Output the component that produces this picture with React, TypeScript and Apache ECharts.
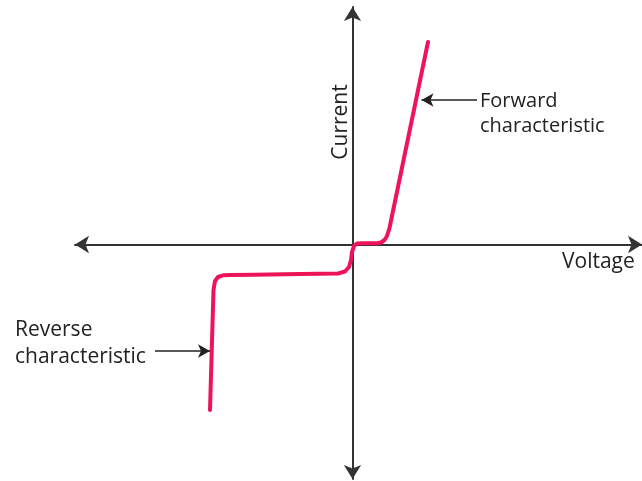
import React, { useEffect, useRef } from "react";
import * as echarts from "echarts";

// Diode I–V characteristic (arbitrary units: voltage on x, current on y)
const voltage = [
  -14.25, -13.9, -13.75, -13.45, -12.95, -12.25, -5.25, -1.45, -0.75, -0.35,
  -0.15, -0.05, 0.15, 0.45, 0.95, 2.45, 2.85, 3.2, 3.45, 3.7, 7.55,
];
const current = [
  -16.55, -4.55, -3.65, -3.25, -3.08, -3.05, -2.95, -2.9, -2.7, -2.25,
  -1.55, -0.75, -0.15, 0.1, 0.12, 0.12, 0.2, 0.45, 0.85, 1.65, 20.25,
];

const axisNames = ["Voltage", "Current"];
const forwardLabel = ["Forward", "characteristic"];
const reverseLabel = ["Reverse", "characteristic"];

// annotation arrows: [start, end] in data units
const forwardArrow = [
  [12.45, 14.45],
  [6.9, 14.45],
];
const reverseArrow = [
  [-19.75, -10.65],
  [-14.25, -10.65],
];

const TEXT_COLOR = "#222";

export default function App() {
  const ref = useRef<HTMLDivElement>(null);
  useEffect(() => {
    const chart = echarts.init(ref.current!, null, { renderer: "svg" });
    const data = voltage.map((v, i) => [v, current[i]]);
    const axisCommon = {
      type: "value",
      axisLine: {
        onZero: true,
        symbol: ["arrow", "arrow"],
        symbolSize: [13, 14],
        lineStyle: { color: "#333", width: 2 },
      },
      axisTick: { show: false },
      axisLabel: { show: false },
      splitLine: { show: false },
    };
    const txt = (
      text: string,
      x: number,
      y: number,
      size: number,
      extra: any = {}
    ) => ({
      type: "text",
      x,
      y,
      ...extra,
      style: {
        text,
        fill: TEXT_COLOR,
        font: `${size}px "Open Sans", sans-serif`,
        textAlign: extra.align || "left",
        align: extra.align || "left",
        textVerticalAlign: "middle",
        verticalAlign: "middle",
      },
    });
    chart.setOption({
      animation: false,
      grid: { left: 75, right: 0, top: 7, bottom: 2 },
      xAxis: { ...axisCommon, min: -27.75, max: 28.95 },
      yAxis: { ...axisCommon, min: -23.45, max: 23.75 },
      series: [
        {
          type: "line",
          data,
          showSymbol: false,
          symbol: "none",
          lineStyle: { color: "#ee1459", width: 4, cap: "round", join: "round" },
          markLine: {
            silent: true,
            symbol: ["none", "arrow"],
            symbolSize: [10, 12],
            label: { show: false },
            lineStyle: { color: "#222", width: 1.5, type: "solid" },
            data: [
              [{ coord: forwardArrow[0] }, { coord: forwardArrow[1] }],
              [{ coord: reverseArrow[0] }, { coord: reverseArrow[1] }],
            ],
          },
        },
      ],
      graphic: [
        txt(forwardLabel[0], 480, 99.5, 20),
        txt(forwardLabel[1], 480, 124.5, 20),
        txt(reverseLabel[0], 15, 328, 21),
        txt(reverseLabel[1], 15, 355, 21),
        txt(axisNames[0], 562, 260, 21),
        txt(axisNames[1], 339, 122, 21, { rotation: Math.PI / 2, align: "center" }),
      ],
    });
    return () => chart.dispose();
  }, []);
  return (
    <div
      ref={ref}
      style={{ position: "fixed", left: 0, top: 0, width: 642, height: 481 }}
    />
  );
}
